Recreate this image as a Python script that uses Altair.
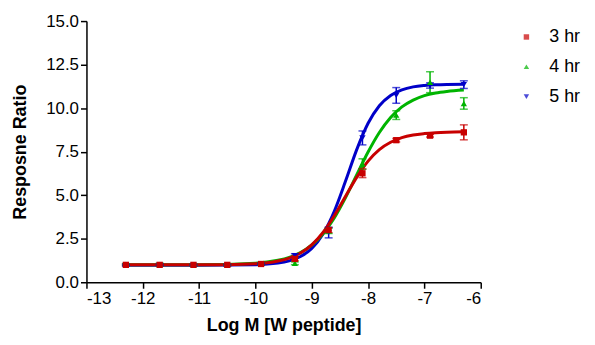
import altair as alt
import pandas as pd

# measured points
dose = [-12.3, -11.7, -11.1, -10.5, -9.9, -9.3, -8.7, -8.1, -7.5, -6.9, -6.3]
red = [1.0, 1.0, 1.0, 1.0, 1.05, 1.34, 3.0, 6.26, 8.16, 8.42, 8.61]
red_err = [0.05, 0.05, 0.05, 0.05, 0.05, 0.1, 0.15, 0.25, 0.1, 0.08, 0.43]
green = [1.02, 1.02, 1.0, 1.0, 1.05, 1.09, 2.95, 6.79, 9.6, 11.49, 10.27]
green_err = [0.05, 0.08, 0.05, 0.05, 0.05, 0.08, 0.15, 0.3, 0.25, 0.6, 0.33]
blue = [0.98, 1.0, 0.98, 0.98, 1.05, 1.52, 2.85, 8.29, 10.73, 11.3, 11.35]
blue_err = [0.05, 0.05, 0.05, 0.05, 0.05, 0.12, 0.3, 0.4, 0.45, 0.15, 0.22]

# fitted curves
curve_x = [-12.3, -11.0, -10.0, -9.6, -9.4, -9.2, -9.0, -8.8, -8.6, -8.4, -8.2,
           -8.0, -7.8, -7.6, -7.4, -7.2, -7.0, -6.8, -6.6, -6.3]
curve_red = [1.0, 1.0, 1.07, 1.22, 1.39, 1.68, 2.15, 2.86, 3.82, 4.94, 6.04,
             6.96, 7.62, 8.04, 8.31, 8.46, 8.54, 8.59, 8.62, 8.64]
curve_green = [1.0, 1.0, 1.09, 1.26, 1.43, 1.70, 2.14, 2.79, 3.70, 4.87, 6.18,
               7.48, 8.60, 9.46, 10.07, 10.46, 10.72, 10.87, 10.96, 11.04]
curve_blue = [0.98, 0.98, 1.01, 1.10, 1.23, 1.48, 1.94, 2.77, 4.08, 5.81, 7.63,
              9.13, 10.14, 10.73, 11.05, 11.22, 11.30, 11.34, 11.36, 11.37]

series = ["3 hr", "4 hr", "5 hr"]
colors = ["#c80000", "#00b400", "#0000c8"]
shapes = ["square", "triangle-up", "triangle-down"]
draw_order = {"5 hr": 0, "4 hr": 1, "3 hr": 2}

pts_rows = []
for name, vals, errs in zip(series, [red, green, blue], [red_err, green_err, blue_err]):
    for x, v, e in zip(dose, vals, errs):
        pts_rows.append({"series": name, "x": x, "y": v, "lo": v - e, "hi": v + e,
                         "order": draw_order[name]})
pts = pd.DataFrame(pts_rows)

cur_rows = []
for name, vals in zip(series, [curve_red, curve_green, curve_blue]):
    for x, v in zip(curve_x, vals):
        cur_rows.append({"series": name, "x": x, "y": v, "order": draw_order[name]})
cur = pd.DataFrame(cur_rows)

FONT = "Liberation Sans"

legend = alt.Legend(title=None, orient="none", legendX=434, legendY=7,
                    symbolSize=30, labelFontSize=18, labelFont=FONT,
                    labelColor="black", rowPadding=12, symbolStrokeWidth=0,
                    labelOffset=14)
xscale = alt.Scale(domain=[-13, -6], nice=False, zero=False)
yscale = alt.Scale(domain=[0, 15], nice=False)
color = alt.Color("series:N", scale=alt.Scale(domain=series, range=colors), legend=legend)
shape = alt.Shape("series:N", scale=alt.Scale(domain=series, range=shapes), legend=legend)

xaxis = alt.X("x:Q", scale=xscale,
              axis=alt.Axis(values=list(range(-13, -5)), title="Log M [W peptide]",
                            labelExpr="'' + datum.value", titlePadding=11))
yaxis = alt.Y("y:Q", scale=yscale,
              axis=alt.Axis(values=[0, 2.5, 5, 7.5, 10, 12.5, 15], format=".1f",
                            title="Resposne Ratio", titlePadding=16))

lines = []
for name, c in zip(["5 hr", "4 hr", "3 hr"], ["#0000c8", "#00b400", "#c80000"]):
    lines.append(
        alt.Chart(cur[cur.series == name]).mark_line(strokeWidth=3, interpolate="monotone", color=c)
        .encode(x=xaxis, y=yaxis, detail="series:N")
    )

bars = alt.Chart(pts).mark_rule(strokeWidth=1.5).encode(
    x="x:Q", y="lo:Q", y2="hi:Q", color=color)
caps_lo = alt.Chart(pts).mark_tick(orient="horizontal", size=8, thickness=1.5).encode(
    x="x:Q", y="lo:Q", color=color)
caps_hi = alt.Chart(pts).mark_tick(orient="horizontal", size=8, thickness=1.5).encode(
    x="x:Q", y="hi:Q", color=color)
points = alt.Chart(pts).mark_point(filled=True, size=40, opacity=1).encode(
    x="x:Q", y="y:Q", color=color, shape=shape, order="order:Q")

chart = alt.layer(*lines, bars, caps_lo, caps_hi, points).properties(
    width=397, height=263,
    autosize=alt.AutoSizeParams(type="none"),
    padding={"left": 79, "top": 12, "right": 107, "bottom": 62},
).configure_view(stroke=None).configure_axis(
    grid=False, domainColor="black", domainWidth=1.5, tickColor="black", tickWidth=1.5,
    tickSize=6, labelFont=FONT, labelFontSize=17, labelColor="black", labelPadding=2,
    titleFont=FONT, titleFontSize=18, titleFontWeight="bold", titleColor="black",
)

chart.save("out.html", embed_options={"renderer": "svg", "actions": False})
